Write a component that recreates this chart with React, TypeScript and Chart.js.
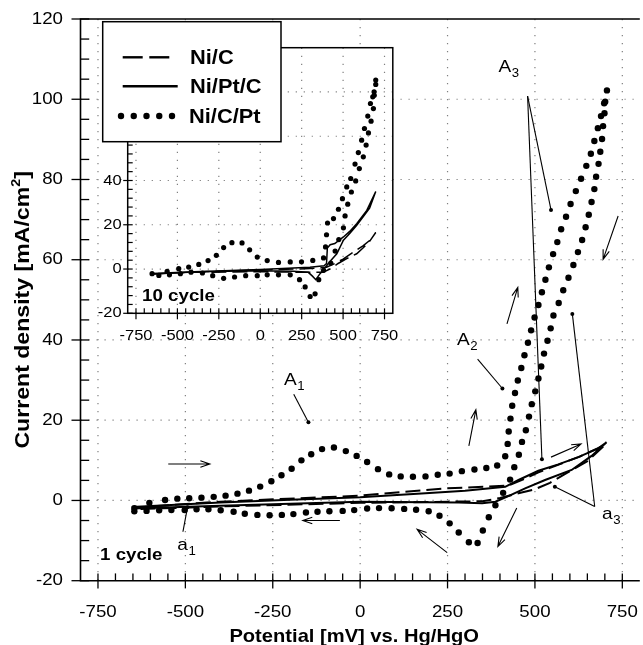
import React, { useEffect, useRef } from "react";
import { Chart, registerables } from "chart.js";

Chart.register(...registerables);

// ---------------- data ----------------
const seriesLabels = ["Ni/C", "Ni/Pt/C", "Ni/C/Pt"];
const xTickValues = [-750, -500, -250, 0, 250, 500, 750];
const mainYTickValues = [-20, 0, 20, 40, 60, 80, 100, 120];
const insetYGridValues = [-20, 0, 20, 40, 60, 80, 100];
const insetYLabelValues = [-20, 0, 20, 40, 60, 80];

// main plot (1 cycle) — Ni/C/Pt (dotted)
const mainNiCPtFwdX = [-646, -603, -558, -523, -489, -454, -419, -385, -351, -318, -286, -254, -225, -196, -168, -140, -109, -75, -41, -10, 20, 51, 83, 116, 151, 187, 222, 256, 291, 327, 361, 392, 415, 422, 425, 430, 435, 443, 451, 461, 470, 480, 489, 499, 510, 520, 530, 540, 552, 564, 575, 589, 602, 617, 632, 647, 660, 670, 680, 689, 698, 706];
const mainNiCPtFwdY = [-1.9, -0.6, 0.1, 0.45, 0.55, 0.7, 0.9, 1.2, 1.7, 2.45, 3.45, 4.8, 6.3, 7.9, 10.0, 11.5, 12.8, 13.2, 12.3, 11.1, 9.6, 7.8, 6.5, 6.0, 5.9, 6.0, 6.4, 6.7, 7.3, 7.7, 8.1, 8.7, 11.0, 14.1, 17.2, 20.4, 23.6, 26.8, 29.9, 33.0, 36.2, 39.3, 42.4, 45.6, 48.7, 51.9, 55.0, 58.1, 61.4, 64.4, 67.6, 70.7, 73.9, 77.1, 80.2, 83.4, 86.4, 89.6, 92.8, 95.8, 99.0, 102.2];
const mainNiCPtRevX = [701, 699, 695, 692, 687, 682, 675, 670, 662, 654, 645, 635, 623, 610, 596, 581, 568, 553, 545, 536, 526, 518, 510, 501, 491, 483, 474, 463, 454, 441, 429, 409, 387, 368, 351, 336, 311, 282, 256, 227, 196, 160, 126, 90, 54, 20, -17, -50, -88, -122, -155, -191, -224, -259, -294, -330, -362, -399, -434, -468, -502, -540, -575, -611, -646];
const mainNiCPtRevY = [99.4, 96.5, 93.3, 90.1, 86.9, 83.9, 80.7, 77.6, 74.4, 71.2, 68.1, 64.9, 61.9, 58.7, 55.5, 52.4, 49.2, 46.1, 42.9, 39.8, 36.6, 33.4, 30.4, 27.2, 24.0, 20.9, 17.5, 14.6, 11.4, 8.3, 5.2, 1.9, -1.2, -4.2, -7.5, -10.6, -10.4, -8.0, -5.7, -3.8, -2.7, -2.3, -2.1, -1.95, -1.9, -2.0, -2.4, -2.6, -2.7, -2.8, -3.0, -3.4, -3.6, -3.7, -3.6, -3.3, -2.8, -2.45, -2.2, -2.2, -2.4, -2.4, -2.45, -2.6, -2.7];

// main plot — Ni/Pt/C (solid)
const mainNiPtCFwdX = [-653, -400, -200, 0, 187, 300, 415, 453, 510, 567, 624, 681, 705];
const mainNiPtCFwdY = [-1.6, -0.5, 0.2, 0.8, 1.8, 2.4, 3.4, 5.1, 7.4, 9.0, 10.8, 13.0, 14.5];
const mainNiPtCRevX = [662, 605, 529, 472, 424, 387, 349, 282, 0, -400, -653];
const mainNiPtCRevY = [11.1, 7.6, 5.1, 3.0, 1.1, -0.3, -0.7, -0.5, -0.3, -1.3, -2.0];

// main plot — Ni/C (dashed)
const mainNiCFwdX = [-650, -400, 0, 244, 424, 460, 510, 570, 630, 700];
const mainNiCFwdY = [-1.8, -0.3, 1.2, 3.0, 3.7, 5.0, 7.0, 9.0, 11.0, 13.8];
const mainNiCRevX = [650, 594, 543, 500, 453, 400, 350, 0, -400, -650];
const mainNiCRevY = [9.8, 7.0, 4.4, 2.8, 1.8, 0.6, -0.2, -0.6, -1.5, -2.2];

// inset (10 cycle) — Ni/C/Pt (dotted)
const insetNiCPtFwdX = [-653, -562, -492, -432, -371, -315, -265, -221, -171, -110, -64, -18, 42, 110, 181, 249, 317, 382, 394, 400, 406, 442, 472, 496, 522, 546, 572, 592, 612, 629, 649, 665, 679, 687, 697];
const insetNiCPtFwdY = [-2.1, -1.1, 0.15, 0.9, 2.1, 3.8, 6.2, 9.7, 11.9, 11.8, 8.7, 5.4, 3.8, 3.0, 3.2, 3.3, 3.9, 5.0, 10.0, 15.5, 20.8, 22.8, 27.0, 31.8, 37.1, 40.9, 47.4, 52.6, 58.2, 63.5, 69.1, 74.8, 77.8, 80.1, 85.4];
const insetNiCPtRevX = [697, 688, 683, 669, 653, 639, 622, 598, 576, 550, 528, 512, 502, 474, 452, 426, 382, 353, 331, 301, 271, 237, 181, 110, 42, -18, -88, -155, -221, -287, -349, -418, -482, -548, -612];
const insetNiCPtRevY = [83.4, 78.5, 72.5, 66.8, 61.5, 56.0, 50.7, 45.4, 39.8, 34.8, 29.3, 24.0, 18.6, 13.3, 8.1, 2.7, -0.6, -4.8, -11.2, -12.4, -8.1, -4.8, -2.6, -2.6, -2.6, -3.0, -3.0, -3.6, -4.2, -3.0, -1.8, -1.4, -2.1, -2.6, -2.9];

// inset — Ni/Pt/C (solid)
const insetNiPtCFwdX = [-650, -400, 0, 300, 385, 400, 405, 422, 450, 502, 540, 582, 643, 697];
const insetNiPtCFwdY = [-2.2, -1.2, -0.2, 0.8, 1.5, 2.5, 9.5, 11.0, 11.5, 14.5, 17.0, 20.5, 26.5, 35.0];
const insetNiPtCRevX = [660, 620, 580, 540, 502, 462, 422, 390, 361, 335, 315, 290, 200, 0, -400, -650];
const insetNiPtCRevY = [27.5, 23.5, 19.5, 16.0, 13.0, 6.9, 3.5, 0.5, -2.1, -4.8, -3.2, -1.5, -1.0, -0.8, -1.2, -2.0];

// inset — Ni/C (dashed)
const insetNiCFwdX = [-650, -400, 0, 300, 400, 450, 500, 560, 620, 670, 697];
const insetNiCFwdY = [-2.2, -1.3, -0.5, 0.2, 0.8, 2.5, 4.5, 7.5, 10.5, 13.5, 16.5];
const insetNiCRevX = [660, 620, 582, 522, 470, 420, 380, 300, 0, -400, -650];
const insetNiCRevY = [12.5, 9.5, 6.9, 4.7, 2.5, 0.0, -1.5, -1.5, -1.2, -1.5, -2.2];

// ---------------- helpers ----------------
const FONT = '"Liberation Sans", Arial, Helvetica, sans-serif';

const pts = (xs: number[], ys: number[]) => xs.map((x, i) => ({ x, y: ys[i] }));
const loop = (fx: number[], fy: number[], rx: number[], ry: number[]) => pts(fx.concat(rx), fy.concat(ry));

function drawText(ctx: CanvasRenderingContext2D, s: string, x: number, y: number, font: string, align = "left", baseline = "alphabetic", sx = 1.1) {
  ctx.save();
  ctx.font = font;
  ctx.textBaseline = baseline as CanvasTextBaseline;
  ctx.textAlign = "left";
  const w = ctx.measureText(s).width * sx;
  let lx = x;
  if (align === "center") lx = x - w / 2;
  else if (align === "right") lx = x - w;
  ctx.translate(lx, y);
  ctx.scale(sx, 1);
  ctx.fillStyle = "#000";
  ctx.fillText(s, 0, 0);
  ctx.restore();
  return w;
}

function line(ctx: CanvasRenderingContext2D, x1: number, y1: number, x2: number, y2: number) {
  ctx.beginPath();
  ctx.moveTo(x1, y1);
  ctx.lineTo(x2, y2);
  ctx.stroke();
}

function arrow(ctx: CanvasRenderingContext2D, x1: number, y1: number, x2: number, y2: number) {
  const a = Math.atan2(y2 - y1, x2 - x1);
  const L = 10, t = 0.33;
  ctx.beginPath();
  ctx.moveTo(x1, y1);
  ctx.lineTo(x2, y2);
  ctx.moveTo(x2 - L * Math.cos(a - t), y2 - L * Math.sin(a - t));
  ctx.lineTo(x2, y2);
  ctx.lineTo(x2 - L * Math.cos(a + t), y2 - L * Math.sin(a + t));
  ctx.stroke();
}

function leader(ctx: CanvasRenderingContext2D, x1: number, y1: number, x2: number, y2: number) {
  line(ctx, x1, y1, x2, y2);
  ctx.beginPath();
  ctx.arc(x2, y2, 2, 0, Math.PI * 2);
  ctx.fill();
}

function subLabel(ctx: CanvasRenderingContext2D, main: string, sub: string, x: number, y: number) {
  const w = drawText(ctx, main, x, y, `17px ${FONT}`, "left", "alphabetic", 1.12);
  drawText(ctx, sub, x + w + 0.5, y + 5, `12px ${FONT}`, "left", "alphabetic", 1.1);
}

function drawGrid(chart: any, yVals: number[]) {
  const ctx = chart.ctx, a = chart.chartArea, xs = chart.scales.x, ys = chart.scales.y;
  ctx.save();
  ctx.strokeStyle = "#808080";
  ctx.lineWidth = 1.2;
  ctx.setLineDash([1.2, 6.8]);
  for (const v of xTickValues) {
    const px = xs.getPixelForValue(v);
    if (px > a.left + 2 && px < a.right - 2) line(ctx, px, a.top, px, a.bottom);
  }
  for (const v of yVals) {
    const py = ys.getPixelForValue(v);
    if (py > a.top + 2 && py < a.bottom - 2) line(ctx, a.left, py, a.right, py);
  }
  ctx.restore();
}

function makeDatasets(nic: any[], niptc: any[], nicpt: any[], lw: number, r: number) {
  return [
    { label: seriesLabels[0], data: nic, borderColor: "#000", backgroundColor: "#000", borderWidth: lw, borderDash: [15, 6], pointRadius: 0, tension: 0, fill: false },
    { label: seriesLabels[1], data: niptc, borderColor: "#000", backgroundColor: "#000", borderWidth: lw, pointRadius: 0, tension: 0, fill: false },
    { label: seriesLabels[2], data: nicpt, showLine: false, borderColor: "#000", backgroundColor: "#000", pointBackgroundColor: "#000", pointBorderWidth: 0, pointRadius: r, pointHoverRadius: r },
  ];
}

// ---------------- main chart plugin ----------------
const mainPlugin = {
  id: "mainDeco",
  beforeDraw(chart: any) {
    const ctx = chart.ctx;
    ctx.save();
    ctx.fillStyle = "#fff";
    ctx.fillRect(0, 0, chart.width, chart.height);
    ctx.restore();
  },
  beforeDatasetsDraw(chart: any) {
    drawGrid(chart, mainYTickValues);
  },
  afterDatasetsDraw(chart: any) {
    const ctx = chart.ctx, a = chart.chartArea, xs = chart.scales.x, ys = chart.scales.y;
    const X = (v: number) => xs.getPixelForValue(v);
    const Y = (v: number) => ys.getPixelForValue(v);
    ctx.save();
    ctx.setLineDash([]);
    ctx.strokeStyle = "#000";
    ctx.fillStyle = "#000";
    // frame
    ctx.lineWidth = 1.6;
    ctx.beginPath();
    ctx.moveTo(a.right, a.top);
    ctx.lineTo(a.left, a.top);
    ctx.lineTo(a.left, a.bottom);
    ctx.lineTo(a.right, a.bottom);
    ctx.stroke();
    // ticks
    ctx.lineWidth = 1.3;
    for (let v = -750; v <= 750; v += 50) {
      const px = X(v);
      const major = v % 250 === 0;
      line(ctx, px, a.bottom - 7.3, px, major ? a.bottom + 7.7 : a.bottom);
    }
    for (let v = -20; v <= 120; v += 5) {
      const py = Y(v);
      const major = v % 20 === 0;
      line(ctx, major ? a.left - 9 : a.left, py, a.left + 8.7, py);
    }
    // tick labels
    for (const v of xTickValues) drawText(ctx, String(v), X(v), a.bottom + 32, `17px ${FONT}`, "center", "middle", 1.1);
    for (const v of mainYTickValues) drawText(ctx, String(v), a.left - 17.5, Y(v), `17px ${FONT}`, "right", "middle", 1.1);
    // axis titles
    drawText(ctx, "Potential [mV] vs. Hg/HgO", (a.left + a.right) / 2 - 6, 641.5, `bold 19px ${FONT}`, "center", "alphabetic", 1.06);
    ctx.save();
    ctx.translate(21.5, (a.top + a.bottom) / 2 + 10);
    ctx.rotate(-Math.PI / 2);
    {
      const sx = 1.1;
      ctx.font = `bold 21px ${FONT}`;
      const w1 = ctx.measureText("Current density [mA/cm").width * sx;
      ctx.font = `bold 13px ${FONT}`;
      const w2 = ctx.measureText("2").width * sx;
      ctx.font = `bold 21px ${FONT}`;
      const w3 = ctx.measureText("]").width * sx;
      const total = w1 + w2 + w3;
      let x0 = -total / 2;
      drawText(ctx, "Current density [mA/cm", x0, 7, `bold 21px ${FONT}`, "left", "alphabetic", sx);
      drawText(ctx, "2", x0 + w1, -2, `bold 13px ${FONT}`, "left", "alphabetic", sx);
      drawText(ctx, "]", x0 + w1 + w2, 7, `bold 21px ${FONT}`, "left", "alphabetic", sx);
    }
    ctx.restore();

    // annotations: arrows (tail -> head), in data units
    ctx.lineWidth = 1.1;
    const arrows = [
      [-549, 9.1, -430, 9.1],
      [-58, -5.0, -164, -5.0],
      [311, 13.6, 331, 22.6],
      [249, -13.0, 163, -7.2],
      [448, -1.9, 394, -11.5],
      [546, 10.8, 632, 14.1],
      [420, 44.0, 451, 53.1],
      [738, 70.9, 695, 60.1],
    ];
    for (const [x1, y1, x2, y2] of arrows) arrow(ctx, X(x1), Y(y1), X(x2), Y(y2));
    // leader lines (label -> point)
    const leaders = [
      [-190, 26.5, -148, 19.5],
      [336, 35.2, 407, 27.9],
      [479, 100.8, 546, 72.4],
      [479, 100.8, 520, 10.3],
      [-507, -7.8, -494, -1.7],
      [671, -1.5, 557, 3.4],
      [671, -1.5, 607, 46.5],
    ];
    for (const [x1, y1, x2, y2] of leaders) leader(ctx, X(x1), Y(y1), X(x2), Y(y2));
    // peak labels
    subLabel(ctx, "A", "1", X(-218), Y(28.8));
    subLabel(ctx, "A", "2", X(277), Y(38.8));
    subLabel(ctx, "A", "3", X(396), Y(106.7));
    subLabel(ctx, "a", "1", X(-523), Y(-12.3));
    subLabel(ctx, "a", "3", X(692), Y(-4.6));
    drawText(ctx, "1 cycle", X(-744), Y(-13.6), `bold 17px ${FONT}`, "left", "middle", 1.1);
    ctx.restore();
  },
};

// ---------------- inset chart plugin ----------------
const insetPlugin = {
  id: "insetDeco",
  beforeDatasetsDraw(chart: any) {
    const ctx = chart.ctx, a = chart.chartArea;
    ctx.save();
    ctx.fillStyle = "#fff";
    ctx.fillRect(a.left, a.top, a.right - a.left, a.bottom - a.top);
    ctx.restore();
    drawGrid(chart, insetYGridValues);
  },
  afterDatasetsDraw(chart: any) {
    const ctx = chart.ctx, a = chart.chartArea, xs = chart.scales.x, ys = chart.scales.y;
    const X = (v: number) => xs.getPixelForValue(v);
    const Y = (v: number) => ys.getPixelForValue(v);
    ctx.save();
    ctx.setLineDash([]);
    ctx.strokeStyle = "#000";
    ctx.fillStyle = "#000";
    ctx.lineWidth = 1.5;
    ctx.strokeRect(a.left, a.top, a.right - a.left, a.bottom - a.top);
    ctx.lineWidth = 1.2;
    for (let v = -750; v <= 750; v += 50) {
      const px = X(v);
      const major = v % 250 === 0;
      line(ctx, px, a.bottom - 5, px, major ? a.bottom + 6 : a.bottom);
    }
    for (let v = -20; v <= 100; v += 4) {
      const py = Y(v);
      const major = v % 20 === 0;
      line(ctx, major ? a.left - 4.5 : a.left, py, a.left + 5, py);
    }
    for (const v of xTickValues) drawText(ctx, String(v), X(v), a.bottom + 22.5, `15px ${FONT}`, "center", "middle", 1.1);
    for (const v of insetYLabelValues) drawText(ctx, String(v), a.left - 6, Y(v), `15px ${FONT}`, "right", "middle", 1.1);
    drawText(ctx, "10 cycle", X(-713), Y(-12.1), `bold 17px ${FONT}`, "left", "middle", 1.1);

    // legend (drawn from dataset styles)
    const bx = 14.7, by = 1.7, bw = 178.3, bh = 120;
    ctx.fillStyle = "#fff";
    ctx.fillRect(bx, by, bw, bh);
    ctx.lineWidth = 1.5;
    ctx.strokeStyle = "#000";
    ctx.strokeRect(bx, by, bw, bh);
    ctx.fillStyle = "#000";
    const rowsY = [37.3, 66.3, 96];
    chart.data.datasets.forEach((ds: any, i: number) => {
      const yy = rowsY[i];
      if (ds.showLine === false) {
        for (let k = 0; k < 5; k++) {
          ctx.beginPath();
          ctx.arc(33 + k * 12.75, yy, 3.2, 0, Math.PI * 2);
          ctx.fill();
        }
      } else {
        ctx.lineWidth = 2.4;
        if (ds.borderDash) {
          line(ctx, 34.7, yy, 54.7, yy);
          line(ctx, 61.3, yy, 81.3, yy);
        } else {
          line(ctx, 34.7, yy, 89.7, yy);
        }
      }
      drawText(ctx, ds.label, i === 2 ? 101 : 102, yy + 1, `bold 21px ${FONT}`, "left", "middle", 1.04);
    });
    ctx.restore();
  },
};

function baseOptions(padding: any) {
  return {
    responsive: false,
    maintainAspectRatio: false,
    animation: false,
    devicePixelRatio: 1,
    events: [],
    layout: { padding },
    plugins: { legend: { display: false }, tooltip: { enabled: false } },
  };
}

export default function App() {
  const mainRef = useRef<HTMLCanvasElement>(null);
  const insetRef = useRef<HTMLCanvasElement>(null);

  useEffect(() => {
    const mainChart = new Chart(mainRef.current as HTMLCanvasElement, {
      type: "line",
      data: {
        datasets: makeDatasets(
          loop(mainNiCFwdX, mainNiCFwdY, mainNiCRevX, mainNiCRevY),
          loop(mainNiPtCFwdX, mainNiPtCFwdY, mainNiPtCRevX, mainNiPtCRevY),
          loop(mainNiCPtFwdX, mainNiCPtFwdY, mainNiCPtRevX, mainNiCPtRevY),
          2,
          3.2
        ) as any,
      },
      options: {
        ...baseOptions({ left: 80.5, top: 19, right: 1.2, bottom: 64.3 }),
        scales: {
          x: { type: "linear", min: -800, max: 800, display: false },
          y: { type: "linear", min: -20, max: 120, display: false },
        },
      } as any,
      plugins: [mainPlugin],
    });

    const insetChart = new Chart(insetRef.current as HTMLCanvasElement, {
      type: "line",
      data: {
        datasets: makeDatasets(
          loop(insetNiCFwdX, insetNiCFwdY, insetNiCRevX, insetNiCRevY),
          loop(insetNiPtCFwdX, insetNiPtCFwdY, insetNiPtCRevX, insetNiPtCRevY),
          loop(insetNiCPtFwdX, insetNiCPtFwdY, insetNiCPtRevX, insetNiCPtRevY),
          1.5,
          2.6
        ) as any,
      },
      options: {
        ...baseOptions({ left: 39.7, top: 27.7, right: 11.2, bottom: 36.7 }),
        scales: {
          x: { type: "linear", min: -800, max: 800, display: false },
          y: { type: "linear", min: -20, max: 100, display: false },
        },
      } as any,
      plugins: [insetPlugin],
    });

    return () => {
      mainChart.destroy();
      insetChart.destroy();
    };
  }, []);

  return (
    <div style={{ position: "absolute", left: 0, top: 0, width: 643, height: 645, background: "#fff", overflow: "hidden" }}>
      <canvas ref={mainRef} width={643} height={645} style={{ position: "absolute", left: 0, top: 0, width: 643, height: 645 }} />
      <canvas ref={insetRef} width={316} height={330} style={{ position: "absolute", left: 88, top: 20, width: 316, height: 330 }} />
    </div>
  );
}
